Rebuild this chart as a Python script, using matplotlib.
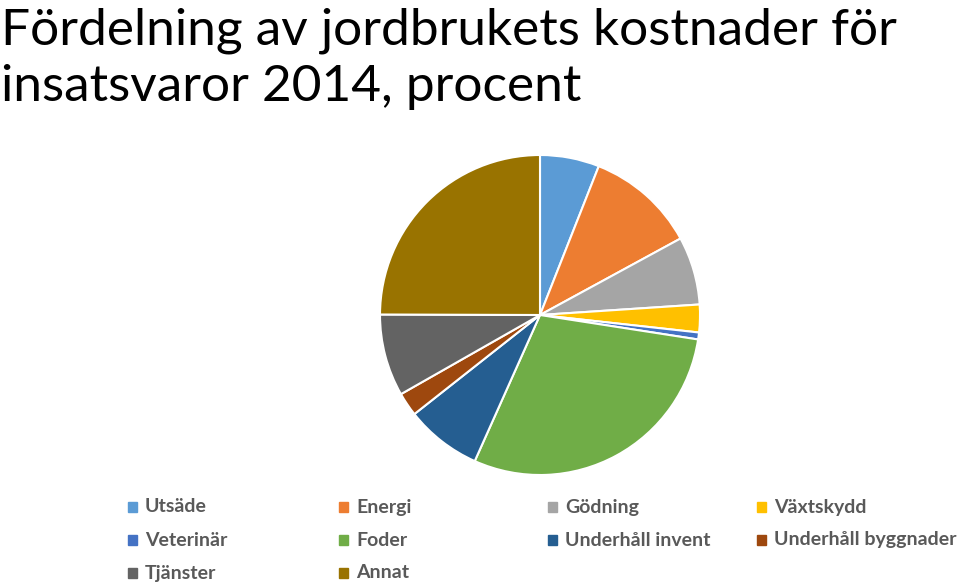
import matplotlib.pyplot as plt
from matplotlib.patches import Rectangle

labels = ["Utsäde", "Energi", "Gödning", "Växtskydd", "Veterinär", "Foder",
          "Underhåll invent", "Underhåll byggnader", "Tjänster", "Annat"]
shares = [6.0, 11.1, 6.9, 2.8, 0.7, 29.3, 7.7, 2.4, 8.3, 25.0]
colors = ["#5B9BD5", "#ED7D31", "#A5A5A5", "#FFC000", "#4472C4", "#70AD47",
          "#255E91", "#9E480E", "#636363", "#997300"]
title_lines = ["Fördelning av jordbrukets kostnader för",
               "insatsvaror 2014, procent"]

plt.rcParams["font.family"] = ["Lato", "DejaVu Sans"]
fig = plt.figure(figsize=(9.6, 5.86), dpi=100)

ax = fig.add_axes([380 / 960, 1 - 475 / 586, 320 / 960, 320 / 586])
ax.pie(shares, colors=colors, startangle=90, counterclock=False,
       wedgeprops=dict(edgecolor="white", linewidth=1.5))
ax.set_xlim(-1.0, 1.0)
ax.set_ylim(-1.0, 1.0)
ax.set_aspect("equal")
ax.axis("off")

# title, two lines at fixed baselines
for line, base in zip(title_lines, [44, 101]):
    fig.text(0.001, 1 - base / 586, line, ha="left", va="baseline",
             fontsize=37, color="black")

# legend, row-wise like Excel
col_x = [128, 339, 548, 757]
row_y = [507, 540, 573]
for i, (lab, col) in enumerate(zip(labels, colors)):
    r, c = divmod(i, 4)
    x = col_x[c] / 960
    y = 1 - row_y[r] / 586
    fig.patches.append(Rectangle((x, y - 5 / 586), 9 / 960, 10 / 586,
                                 transform=fig.transFigure, color=col))
    fig.text(x + 17 / 960, y, lab, ha="left", va="center", fontsize=14,
             fontweight="bold", color="#595959")

fig.savefig("out.png", dpi=100)
